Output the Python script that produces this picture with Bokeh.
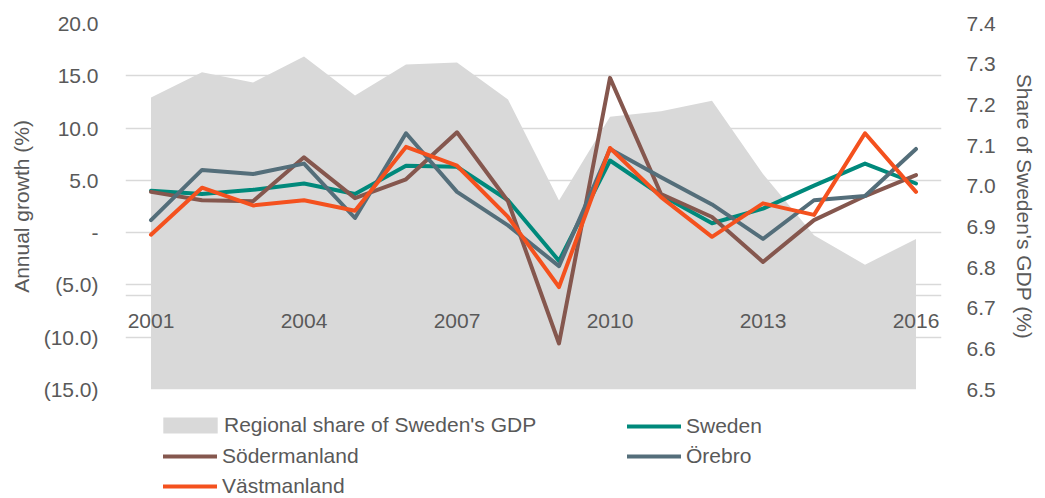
from bokeh.plotting import figure
from bokeh.layouts import column
from bokeh.models import (Range1d, LinearAxis, FixedTicker, Legend, LegendItem, Span,
                          ColumnDataSource, NumeralTickFormatter)
from bokeh.embed import file_html
from bokeh.resources import INLINE

years = list(range(2001, 2017))
share = [7.218, 7.28, 7.255, 7.319, 7.223, 7.299, 7.304, 7.213, 6.965, 7.171,
         7.184, 7.21, 7.03, 6.879, 6.807, 6.87]
sweden = [4.0, 3.7, 4.1, 4.7, 3.7, 6.4, 6.3, 3.1, -2.7, 6.9, 3.6, 0.9, 2.3, 4.5, 6.6, 4.7]
soder = [3.9, 3.1, 3.0, 7.2, 3.3, 5.1, 9.6, 3.0, -10.6, 14.8, 3.7, 1.5, -2.8, 1.2, 3.5, 5.5]
orebro = [1.2, 6.0, 5.6, 6.6, 1.4, 9.5, 3.9, 0.7, -3.2, 8.0, 5.3, 2.7, -0.6, 3.1, 3.5, 8.0]
vast = [-0.2, 4.3, 2.6, 3.1, 2.1, 8.2, 6.4, 1.5, -5.2, 8.1, 3.4, -0.4, 2.8, 1.7, 9.5, 3.9]

left_ticks = [-15, -10, -5, 0, 5, 10, 15, 20]
left_labels = {-15: "(15.0)", -10: "(10.0)", -5: "(5.0)", 0: "-",
               5: "5.0", 10: "10.0", 15: "15.0", 20: "20.0"}
right_ticks = [6.5, 6.6, 6.7, 6.8, 6.9, 7.0, 7.1, 7.2, 7.3, 7.4]
year_ticks = [2001, 2004, 2007, 2010, 2013, 2016]

FONT = "Liberation Sans"
FS = "21px"
TXT = "#595959"
GRID = "#d9d9d9"
C_AREA = "#d9d9d9"
C_SW = "#00897b"
C_SO = "#85574e"
C_OR = "#546e7a"
C_VA = "#f4511e"

W = 1045
FL, FR, FT, FB = 125, 941, 23, 389   # frame edges on the page
H1 = 408
H2 = 498 - H1

p = figure(width=W, height=H1, output_backend="svg", toolbar_location=None,
           x_range=Range1d(2000.5, 2016.5), y_range=Range1d(-15, 20),
           min_border_left=FL, min_border_right=W - FR, min_border_top=FT,
           min_border_bottom=H1 - FB)
p.outline_line_color = None
p.extra_y_ranges = {"share": Range1d(6.5, 7.4)}

src = ColumnDataSource(dict(x=years, share=share, base=[6.5] * len(years), sweden=sweden,
                            soder=soder, orebro=orebro, vast=vast))

p.varea(x="x", y1="base", y2="share", source=src, fill_color=C_AREA, y_range_name="share")
lw = 4
for col, c in (("sweden", C_SW), ("soder", C_SO), ("orebro", C_OR), ("vast", C_VA)):
    p.line("x", col, source=src, line_color=c, line_width=lw,
           line_join="round", line_cap="round")

# grid
p.xgrid.visible = False
p.ygrid.ticker = FixedTicker(ticks=left_ticks)
p.ygrid.grid_line_color = GRID
p.ygrid.grid_line_width = 1.5
p.add_layout(Span(location=-6, dimension="width", line_color=GRID, line_width=1.5,
                  level="underlay"))

# left axis
ya = p.yaxis[0]
ya.ticker = FixedTicker(ticks=left_ticks)
ya.major_label_overrides = left_labels
ya.axis_label = "Annual growth (%)"

# right axis
ra = LinearAxis(y_range_name="share", ticker=FixedTicker(ticks=right_ticks),
                axis_label="Share of Sweden's GDP (%)",
                formatter=NumeralTickFormatter(format="0.0"))
p.add_layout(ra, "right")

xa = p.xaxis[0]
for ax in (ya, ra, xa):
    ax.axis_line_color = None
    ax.major_tick_line_color = None
    ax.minor_tick_line_color = None
    ax.major_tick_out = 0
    ax.major_tick_in = 0
    ax.minor_tick_out = 0
    ax.minor_tick_in = 0
    ax.major_label_text_font = FONT
    ax.major_label_text_font_size = FS
    ax.major_label_text_color = TXT
    ax.axis_label_text_font = FONT
    ax.axis_label_text_font_size = FS
    ax.axis_label_text_font_style = "normal"
    ax.axis_label_text_color = TXT
ya.major_label_standoff = 27
ya.axis_label_standoff = 8
ra.major_label_standoff = 25
ra.axis_label_standoff = 14

# x axis placed inside the frame
xa.fixed_location = -6
xa.ticker = FixedTicker(ticks=year_ticks)
xa.major_label_standoff = 19

# legend figure below
p2 = figure(width=W, height=H2, output_backend="svg", toolbar_location=None,
            x_range=Range1d(0, 1), y_range=Range1d(0, 1),
            x_axis_location=None, y_axis_location=None,
            min_border_left=FL, min_border_right=W - FR, min_border_top=0,
            min_border_bottom=0)
p2.outline_line_color = None
p2.grid.visible = False
off = [-10, -9]
la = p2.varea(x=off, y1=off, y2=off, fill_color=C_AREA)
l_sw = p2.line(x=off, y=off, line_color=C_SW, line_width=lw, line_cap="round")
l_so = p2.line(x=off, y=off, line_color=C_SO, line_width=lw, line_cap="round")
l_or = p2.line(x=off, y=off, line_color=C_OR, line_width=lw, line_cap="round")
l_va = p2.line(x=off, y=off, line_color=C_VA, line_width=lw, line_cap="round")

def mk_legend(items, loc, gw=54, gh=16, standoff=5):
    lg = Legend(items=items, location=loc, orientation="vertical",
                glyph_width=gw, glyph_height=gh, label_height=20, spacing=6,
                label_standoff=standoff, padding=0, margin=0,
                border_line_color=None, background_fill_alpha=0,
                label_text_font=FONT, label_text_font_size=FS,
                label_text_color=TXT)
    p2.add_layout(lg, "center")

mk_legend([LegendItem(label="Regional share of Sweden's GDP", renderers=[la])],
          (156 - FL, 61), gw=68, gh=20, standoff=0)
mk_legend([LegendItem(label="Södermanland", renderers=[l_so]),
           LegendItem(label="Västmanland", renderers=[l_va])], (163 - FL, 0))
mk_legend([LegendItem(label="Sweden", renderers=[l_sw]),
           LegendItem(label="Örebro", renderers=[l_or])], (627 - FL, 30))

layout = column(p, p2, spacing=0)
open("out.html", "w").write(file_html(layout, INLINE))
